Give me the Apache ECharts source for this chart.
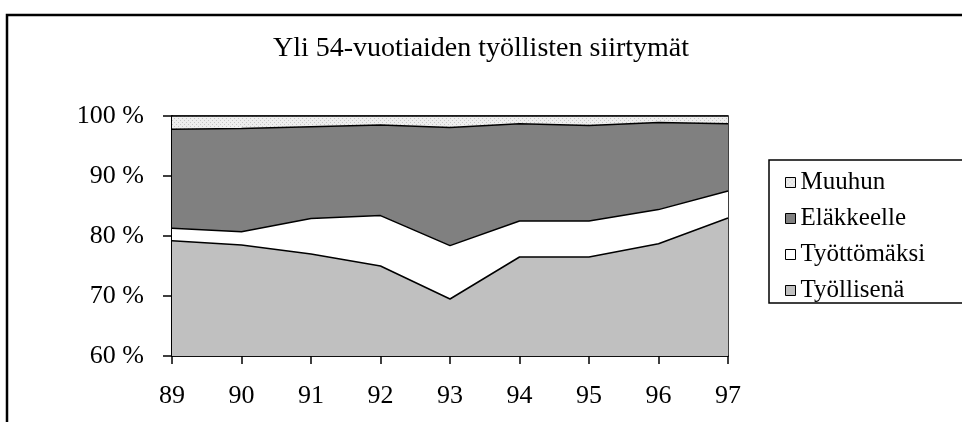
<!DOCTYPE html>
<html>
<head>
<meta charset="utf-8">
<script src="https://cdn.jsdelivr.net/npm/echarts@6/dist/echarts.min.js"></script>
<style>
  html, body { margin: 0; padding: 0; background: #fff; }
  #chart { width: 962px; height: 422px; }
</style>
</head>
<body>
<div id="chart"></div>
<script>
// vuodet ja osuudet (%), luettu kuvasta
const years = ['89', '90', '91', '92', '93', '94', '95', '96', '97'];
const tyollisena  = [79.2, 78.5, 77.0, 75.0, 69.5, 76.5, 76.5, 78.7, 83.0];
const tyottomaksi = [2.1, 2.2, 5.9, 8.4, 8.9, 6.0, 6.0, 5.7, 4.5];
const elakkeelle  = [16.5, 17.2, 15.3, 15.1, 19.7, 16.2, 15.9, 14.5, 11.2];
const muuhun      = [2.2, 2.1, 1.8, 1.5, 1.9, 1.3, 1.6, 1.1, 1.3];
const legendOrder = ['Muuhun', 'Eläkkeelle', 'Työttömäksi', 'Työllisenä'];

const FONT = '"Liberation Serif", "DejaVu Serif", serif';

// pieni pistekuvio "Muuhun"-alueelle
function dotPattern() {
    const c = document.createElement('canvas');
    c.width = 4; c.height = 4;
    const ctx = c.getContext('2d');
    ctx.fillStyle = '#eeeeee';
    ctx.fillRect(0, 0, 4, 4);
    ctx.fillStyle = '#c4c4c4';
    ctx.fillRect(0, 0, 1, 1);
    ctx.fillRect(2, 2, 1, 1);
    return { image: c, repeat: 'repeat' };
}

function areaSeries(name, data, fill) {
    return {
        name: name,
        type: 'line',
        stack: 'total',
        data: data,
        symbol: 'none',
        lineStyle: { color: '#000', width: 1.5 },
        itemStyle: { color: fill, borderColor: '#000', borderWidth: 1 },
        areaStyle: { color: fill, opacity: 1 },
        emphasis: { disabled: true }
    };
}

const chart = echarts.init(document.getElementById('chart'));
chart.setOption({
    backgroundColor: '#fff',
    animation: false,
    title: {
        text: 'Yli 54-vuotiaiden työllisten siirtymät',
        left: 'center',
        top: 30,
        textStyle: { fontFamily: FONT, fontSize: 28, fontWeight: 'normal', color: '#000' }
    },
    graphic: [
        { type: 'rect', shape: { x: 7, y: 15, width: 1000, height: 500 },
          style: { fill: 'none', stroke: '#000', lineWidth: 2.5 }, z: -1 },
        { type: 'rect', shape: { x: 769, y: 160, width: 300, height: 143 },
          style: { fill: 'none', stroke: '#000', lineWidth: 1.5 }, z: -1 }
    ],
    legend: {
        data: legendOrder,
        orient: 'vertical',
        left: 780,
        top: 165,
        icon: 'rect',
        itemWidth: 10,
        itemHeight: 10,
        itemGap: 11,
        itemStyle: { borderColor: '#000', borderWidth: 1 },
        textStyle: { fontFamily: FONT, fontSize: 25, color: '#000' }
    },
    grid: {
        left: 172, right: 234, top: 116, bottom: 66,
        show: true, borderColor: '#000', borderWidth: 1.5, backgroundColor: 'transparent'
    },
    xAxis: {
        type: 'category',
        data: years,
        boundaryGap: false,
        axisLine: { lineStyle: { color: '#000', width: 1.5 } },
        axisTick: { show: true, length: 8, inside: false, lineStyle: { color: '#000', width: 1.5 } },
        axisLabel: { fontFamily: FONT, fontSize: 26, color: '#000', margin: 27 }
    },
    yAxis: {
        type: 'value',
        min: 60, max: 100, interval: 10,
        axisLine: { show: true, lineStyle: { color: '#000', width: 2 } },
        axisTick: { show: true, length: 9, lineStyle: { color: '#000', width: 1.5 } },
        splitLine: { show: false },
        axisLabel: { formatter: '{value} %', fontFamily: FONT, fontSize: 26, color: '#000', margin: 28 }
    },
    series: [
        areaSeries('Työllisenä', tyollisena, '#c0c0c0'),
        areaSeries('Työttömäksi', tyottomaksi, '#ffffff'),
        areaSeries('Eläkkeelle', elakkeelle, '#808080'),
        areaSeries('Muuhun', muuhun, dotPattern())
    ]
});
</script>
</body>
</html>
